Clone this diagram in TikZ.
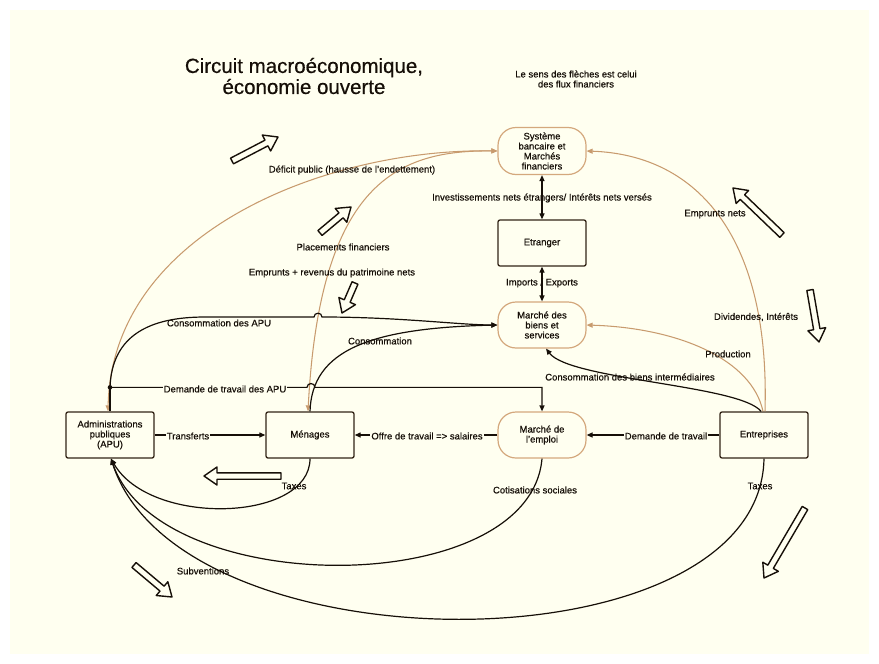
\documentclass[tikz,border=0pt]{standalone}
\usepackage{fontspec}
\setmainfont{Liberation Sans}[FakeBold=0.5]
\usetikzlibrary{arrows.meta,calc}
\definecolor{cream}{RGB}{255,255,240}
\definecolor{tanc}{RGB}{200,155,110}
\definecolor{tanbox}{RGB}{212,168,125}
\definecolor{ink}{RGB}{22,15,8}
\definecolor{boxline}{RGB}{50,36,22}
\newcommand\harrow[2]{%
  \path ($#2!13pt!#1$) coordinate (hn);
  \draw[hollow] ($#1!3.2pt!90:#2$) -- ($(hn)!3.2pt!90:#2$) -- ($(hn)!9pt!90:#2$) -- #2
    -- ($(hn)!9pt!-90:#2$) -- ($(hn)!3.2pt!-90:#2$) -- ($#1!3.2pt!-90:#2$) -- cycle;}
\tikzset{
  rbox/.style={draw=boxline, line width=1.3pt, rounded corners=2pt, minimum width=88pt, minimum height=46pt, align=center, inner sep=1pt, fill=cream, text=ink},
  pill/.style={draw=tanbox, line width=1.2pt, rounded corners=18pt, minimum width=88pt, minimum height=46pt, align=center, inner sep=1pt, fill=cream, text=ink},
  blk/.style={draw=ink, line width=1.2pt},
  tanl/.style={draw=tanc, line width=1.05pt},
  lbl/.style={inner sep=1pt, text=ink},
  lblbg/.style={lbl, fill=cream},
  hollow/.style={draw=ink, fill=cream, line width=1.4pt, line join=round},
}
\begin{document}
\begin{tikzpicture}[x=1pt, y=-1pt, font=\fontsize{9.5}{10}\selectfont, >={Triangle[length=6pt,width=5pt]}]
\useasboundingbox (0,0) rectangle (879,664);
\fill[white] (0,0) rectangle (879,664);
\fill[cream] (10,10) rectangle (869,654);

% titles
\node[align=center, text=ink, font=\fontsize{20.5}{21}\selectfont] (title) at (304,76) {Circuit macroéconomique,\\économie ouverte};
\node[align=center, text=ink] (note) at (576,79) {Le sens des flèches est celui\\des flux financiers};

% nodes
\node[pill, minimum height=47pt] (sys) at (542,151) {Système\\bancaire et\\Marchés\\financiers};
\node[rbox] (etr) at (542,243) {Etranger};
\node[pill] (mbs) at (542,325) {Marché des\\biens et\\services};
\node[pill] (mem) at (542,435) {Marché de\\l'emploi};
\node[rbox] (ent) at (764,435) {Entreprises};
\node[rbox] (men) at (310,435) {Ménages};
\node[rbox] (apu) at (110,435) {Administrations\\publiques\\(APU)};

\coordinate (japu) at ($(apu.north)+(0,-24)$);
\coordinate (jmen) at ($(men.north)+(0,-24)$);

% tan connectors
\draw[tanl,<->] (sys.west) .. controls (330,148) and (112,230) .. ($(apu.north)+(-2,0)$);
\draw[tanl,<->] (sys.west) .. controls (400,150) and (320,180) .. ($(men.north)+(-2,0)$);
\draw[tanl,->] ($(ent.north)+(1,0)$) .. controls (770,240) and (700,155) .. (sys.east);
\draw[tanl,->] ($(ent.north)+(-1,0)$) .. controls (752,360) and (680,328) .. (mbs.east);

% black connectors
\draw[blk,<->] (sys.south) -- (etr.north);
\draw[blk,<->] (etr.south) -- (mbs.north);
\draw[blk,->] ($(ent.north)+(-3,0)$) .. controls (740,385) and (570,380) .. ($(mbs.south)+(4,0)$);
\draw[blk,->] (men.north) .. controls (312,350) and (370,328) .. (mbs.west);
\draw[blk] (apu.north) -- (japu);
\fill[ink] (japu) circle (2.3pt);
\draw[blk,->] (japu) .. controls (112,335) and (150,317) .. (205,317) -- (314,317)
   .. controls (314,312) and (322,312) .. (322,317) .. controls (400,317) and (460,325) .. (mbs.west);
\draw[blk,->] (japu) -- ($(jmen)+(-3,0)$) .. controls ($(jmen)+(-3,-5)$) and ($(jmen)+(5,-5)$) .. ($(jmen)+(5,0)$)
   -- (japu -| mem.north) -- (mem.north);
\draw[blk,->] (apu.east) -- (men.west);
\draw[blk,->] (mem.west) -- (men.east);
\draw[blk,->] (ent.west) -- (mem.east);
\draw[blk,->] (men.south) .. controls (310,522) and (150,527) .. ($(apu.south)+(1,0)$);
\draw[blk,->] (mem.south) .. controls (530,600) and (160,600) .. ($(apu.south)+(1,0)$);
\draw[blk,->] (ent.south) .. controls (760,672) and (180,672) .. ($(apu.south)+(1,0)$);

% labels
\node[lbl] (l1) at (352,170) {Déficit public (hausse de l'endettement)};
\node[lbl] (l2) at (343,247) {Placements financiers};
\node[lbl] (l3) at (332,273) {Emprunts + revenus du patrimoine nets};
\node[lbl] (l4) at (542,198) {Investissements nets étrangers/ Intérêts nets versés};
\node[lbl] (l5) at (542,283) {Imports / Exports};
\node[lbl] (l6) at (715,214) {Emprunts nets};
\node[lbl] (l7) at (756,317) {Dividendes, Intérêts};
\node[lbl] (l8) at (728,354) {Production};
\node[lbl] (l9) at (630,377) {Consommation des biens intermédiaires};
\node[lblbg] (l10) at (666,436) {Demande de travail};
\node[lbl] (l11) at (760,486) {Taxes};
\node[lbl] (l12) at (535,490) {Cotisations sociales};
\node[lbl] (l13) at (219,323) {Consommation des APU};
\node[lbl] (l14) at (380,341) {Consommation};
\node[lblbg] (l15) at (225,389) {Demande de travail des APU};
\node[lblbg] (l16) at (188,436) {Transferts};
\node[lblbg] (l17) at (427,436) {Offre de travail => salaires};
\node[lbl] (l18) at (294,486) {Taxes};
\node[lbl] (l19) at (203,571) {Subventions};

% hollow direction arrows
\harrow{(232,161)}{(278,137)}
\harrow{(320,233)}{(351,207)}
\harrow{(355,283)}{(342,313)}
\harrow{(782,235)}{(733,188)}
\harrow{(810,290)}{(819,342)}
\harrow{(281,476)}{(204,476)}
\harrow{(805,508)}{(764,578)}
\harrow{(134,565)}{(172,597)}
\end{tikzpicture}
\end{document}
